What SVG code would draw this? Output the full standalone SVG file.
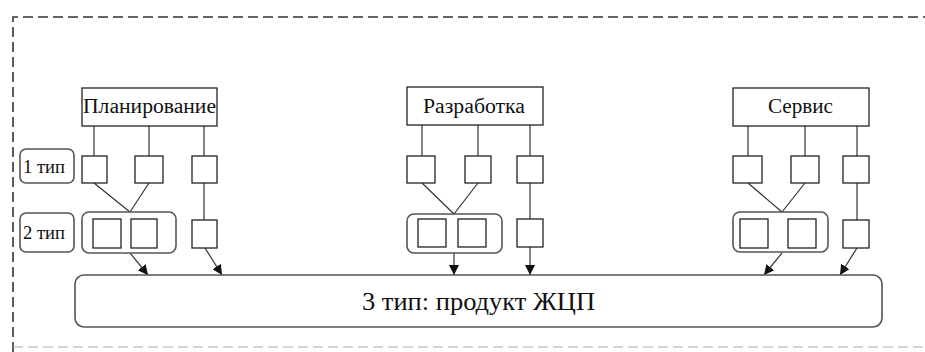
<svg xmlns="http://www.w3.org/2000/svg" width="925" height="352" viewBox="0 0 925 352">
<style>
.box{fill:#fff;stroke:#222;stroke-width:1.3}
.sq{fill:#fff;stroke:#222;stroke-width:1.3}
.grp{fill:#fff;stroke:#555;stroke-width:1.6}
.lbl{fill:#fff;stroke:#555;stroke-width:1.6}
.ln{fill:none;stroke:#333;stroke-width:1.2}
.t{font-family:'Liberation Serif','DejaVu Serif',serif;fill:#111}
.border{fill:none;stroke:#333;stroke-width:1.6;stroke-dasharray:10 5}
</style>
<defs>
<marker id="ah" viewBox="0 0 10 10" refX="10" refY="5" markerWidth="10" markerHeight="10" markerUnits="userSpaceOnUse" orient="auto">
<path d="M0,0 L10,5 L0,10 z" fill="#111"/>
</marker>
</defs>
<rect width="925" height="352" fill="#fff"/>
<g id="frame">
<path class="border" d="M13,352 V17 H925"/>
<path class="border" d="M13,347 H925" style="stroke:#aaa;stroke-width:1.2"/>
</g>
<g id="label1"><rect class="lbl" x="20" y="149" width="54" height="34" rx="6"/><text class="t" x="23" y="173" font-size="18" textLength="42" lengthAdjust="spacingAndGlyphs">1 тип</text></g>
<g id="label2"><rect class="lbl" x="20" y="213" width="54" height="39" rx="6"/><text class="t" x="23" y="239" font-size="18" textLength="42" lengthAdjust="spacingAndGlyphs">2 тип</text></g>

<g id="connectors">
<path class="ln" d="M94,126V156 M149,126V156 M204,126V156 M94,183L130,212 M149,183L130,212 M204,183V220"/>
<path class="ln" d="M130,253L148,275" marker-end="url(#ah)"/>
<path class="ln" d="M205,248L222,275" marker-end="url(#ah)"/>
<path class="ln" d="M422,125V156 M478,125V156 M530,125V156 M422,183L454,214 M478,183L454,214 M530,183V219"/>
<path class="ln" d="M454,253V275" marker-end="url(#ah)"/>
<path class="ln" d="M530,247V275" marker-end="url(#ah)"/>
<path class="ln" d="M748,126V156 M805,126V156 M857,126V156 M748,183L782,212 M805,183L782,212 M857,183V220"/>
<path class="ln" d="M782,253L764,275" marker-end="url(#ah)"/>
<path class="ln" d="M857,248L840,275" marker-end="url(#ah)"/>
</g>

<g id="planning">
<rect class="box" x="82" y="88" width="135" height="38"/>
<text class="t" x="83" y="113" font-size="20" textLength="133" lengthAdjust="spacingAndGlyphs">Планирование</text>
</g>
<g id="p1"><rect class="sq" x="82" y="156" width="25" height="27"/></g>
<g id="p2"><rect class="sq" x="135" y="156" width="28" height="27"/></g>
<g id="p3"><rect class="sq" x="192" y="156" width="25" height="27"/></g>
<g id="pg"><rect class="grp" x="82" y="212" width="94" height="41" rx="7"/><rect class="sq" x="93" y="219" width="28" height="29"/><rect class="sq" x="131" y="219" width="26" height="29"/></g>
<g id="p4"><rect class="sq" x="192" y="220" width="25" height="28"/></g>

<g id="development">
<rect class="box" x="407" y="87" width="136" height="38"/>
<text class="t" x="423" y="113" font-size="20" textLength="102" lengthAdjust="spacingAndGlyphs">Разработка</text>
</g>
<g id="d1"><rect class="sq" x="407" y="156" width="28" height="27"/></g>
<g id="d2"><rect class="sq" x="465" y="156" width="26" height="27"/></g>
<g id="d3"><rect class="sq" x="517" y="156" width="26" height="27"/></g>
<g id="dg"><rect class="grp" x="407" y="214" width="95" height="39" rx="7"/><rect class="sq" x="418" y="219" width="28" height="28"/><rect class="sq" x="458" y="219" width="28" height="28"/></g>
<g id="d4"><rect class="sq" x="517" y="219" width="26" height="28"/></g>

<g id="service">
<rect class="box" x="733" y="88" width="136" height="38"/>
<text class="t" x="768" y="113" font-size="20" textLength="65" lengthAdjust="spacingAndGlyphs">Сервис</text>
</g>
<g id="s1"><rect class="sq" x="733" y="156" width="29" height="27"/></g>
<g id="s2"><rect class="sq" x="791" y="156" width="28" height="27"/></g>
<g id="s3"><rect class="sq" x="843" y="156" width="26" height="27"/></g>
<g id="sg"><rect class="grp" x="733" y="212" width="95" height="40" rx="7"/><rect class="sq" x="740" y="219" width="28" height="29"/><rect class="sq" x="788" y="219" width="28" height="29"/></g>
<g id="s4"><rect class="sq" x="843" y="220" width="26" height="28"/></g>

<g id="product">
<rect class="grp" x="75" y="275" width="807" height="52" rx="9"/>
<text class="t" x="362" y="310" font-size="26" textLength="233" lengthAdjust="spacingAndGlyphs">3 тип: продукт ЖЦП</text>
</g>
</svg>
